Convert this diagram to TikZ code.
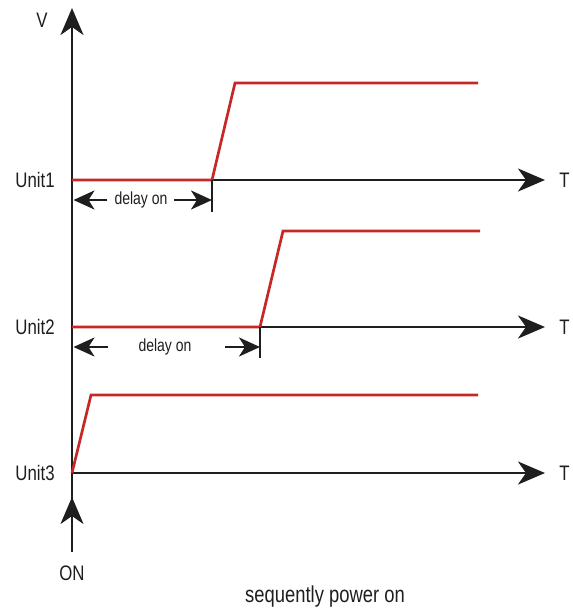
\documentclass[tikz,border=0pt]{standalone}
\usepackage{fontspec}
\setmainfont[FakeStretch=0.8]{Liberation Sans}
\usetikzlibrary{arrows.meta, positioning}
\definecolor{cred}{HTML}{C62828}
\definecolor{cblack}{HTML}{1E1E1E}
\tikzset{
  every picture/.style={line width=2.7pt},
  axis/.style={draw=cblack, -{Stealth[length=27pt, width=23pt, inset=8pt]}},
  signal/.style={draw=cred, line width=2.7pt},
  delay/.style={draw=cblack, line width=2.2pt, -{Stealth[length=21pt, width=19pt, inset=6pt]}},
  tickmark/.style={draw=cblack, line width=1.8pt},
  lbl/.style={font=\fontsize{21}{24}\selectfont, text=cblack, inner sep=0pt},
  note/.style={font=\fontsize{17.5}{20}\selectfont, text=cblack, inner sep=0pt},
  caption/.style={font=\fontsize{23}{26}\selectfont, text=cblack, inner sep=0pt},
}
\begin{document}
\begin{tikzpicture}[x=1pt, y=-1pt]
  \useasboundingbox (0,0) rectangle (573,611);
  % voltage axis and power-on arrow
  \coordinate (o) at (72,552);
  \coordinate (vtop) at (72,8);
  \coordinate (on) at (72,497);
  \draw[axis] (o) -- (vtop);
  \draw[axis] (o) -- (on);
  \node[lbl] (v) at (42,20) {V};
  \node[lbl] (onlabel) at (72,573) {ON};
  % one time axis per unit
  \foreach \i/\y in {1/180, 2/327, 3/473} {
    \coordinate (t\i) at (72,\y);
    \coordinate (e\i) at (545,\y);
    \draw[axis] (t\i) -- (e\i);
    \node[lbl, anchor=east] (u\i) at (56,\y) {Unit\i};
    \node[lbl, anchor=west] (T\i) at (558,\y) {T};
  }
  % supply outputs
  \coordinate (r1) at (212,180);
  \coordinate (r2) at (260,327);
  \draw[signal] (t1) -- (r1) -- (235,83) -- (478,83);
  \draw[signal] (t2) -- (r2) -- (283,231) -- (480,231);
  \draw[signal] (t3) -- (91,395) -- (478,395);
  % delay on, unit 1
  \draw[tickmark] (r1) -- ++(0,32);
  \node[note] (d1) at (141,200) {delay on};
  \draw[delay] (107,200) -- (73.5,200);
  \draw[delay] (174,200) -- (212,200);
  % delay on, unit 2
  \draw[tickmark] (r2) -- ++(0,31);
  \node[note] (d2) at (165,347) {delay on};
  \draw[delay] (108,347) -- (73.5,347);
  \draw[delay] (225,347) -- (260,347);
  \node[caption] (cap) at (325,597) {sequently power on};
\end{tikzpicture}
\end{document}
